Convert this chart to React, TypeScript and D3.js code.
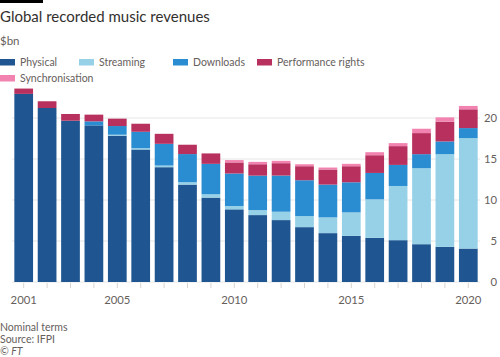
import React from "react";
import * as d3 from "d3";

const years = [2001,2002,2003,2004,2005,2006,2007,2008,2009,2010,2011,2012,2013,2014,2015,2016,2017,2018,2019,2020];
const physical = [22.94,21.22,19.67,19.1,17.84,16.16,14.0,11.88,10.29,8.86,8.16,7.55,6.69,5.96,5.63,5.39,5.1,4.61,4.29,4.08];
const streaming = [0,0,0,0,0.12,0.16,0.2,0.29,0.41,0.41,0.61,1.02,1.35,1.92,2.86,4.69,6.61,9.27,11.3,13.47];
const downloads = [0,0,0,0.49,1.06,2.0,2.65,3.43,3.71,3.96,4.2,4.41,4.37,4.0,3.67,3.22,2.57,1.71,1.55,1.22];
const performance = [0.65,0.82,0.82,0.82,0.9,0.98,1.22,1.14,1.27,1.35,1.39,1.51,1.71,1.84,1.96,2.16,2.29,2.57,2.41,2.29];
const sync = [0,0,0,0,0,0,0,0,0,0.29,0.29,0.29,0.24,0.24,0.29,0.37,0.37,0.53,0.53,0.41];

const seriesNames = ["Physical","Streaming","Downloads","Performance rights","Synchronisation"];
const seriesColors = ["#1f5590","#96d1e7","#2a8dd2","#b7305e","#f283b0"];
const yTicks = [0,5,10,15,20];
const xTickLabels = [2001,2005,2010,2015,2020];

const W = 500, H = 357;
const font = "Lato, 'Open Sans', sans-serif";

export default function App() {
  const rows = years.map((y, i) => ({
    year: String(y),
    Physical: physical[i],
    Streaming: streaming[i],
    Downloads: downloads[i],
    "Performance rights": performance[i],
    Synchronisation: sync[i],
  }));
  const stacked = d3.stack<any>().keys(seriesNames)(rows);
  const x = d3.scaleBand<string>().domain(years.map(String)).range([12, 480]).paddingInner(0.2).paddingOuter(0.1);
  const y = d3.scaleLinear().domain([0, 20]).range([282, 118]);

  const legend1 = [
    { i: 0, x: 0, y: 62 },
    { i: 1, x: 79, y: 62 },
    { i: 2, x: 173, y: 62 },
    { i: 3, x: 257, y: 62 },
    { i: 4, x: 0, y: 78 },
  ];

  return (
    <div style={{ position: "fixed", left: 0, top: 0 }}>
      <svg width={W} height={H} style={{ display: "block", background: "#fff" }} fontFamily={font}>
        <rect x={0} y={0} width={43} height={3} fill="#000" />
        <text x={0} y={21.5} fontSize={15} fill="#33302e">Global recorded music revenues</text>
        <text x={0} y={45} fontSize={11.5} fill="#66605c">$bn</text>
        {legend1.map((l) => (
          <g key={l.i}>
            <rect x={l.x} y={l.y - 3} width={15} height={6.5} fill={seriesColors[l.i]} />
            <text x={l.x + 20} y={l.y + 3.8} fontSize={10.5} fill="#66605c">{seriesNames[l.i]}</text>
          </g>
        ))}
        {yTicks.map((t) => (
          <g key={t}>
            <line x1={12} x2={480} y1={y(t)} y2={y(t)} stroke="#e6e6e6" strokeWidth={1} />
            <text x={497} y={y(t) + 4} textAnchor="end" fontSize={11.3} fill="#66605c">{t}</text>
          </g>
        ))}
        {stacked.map((s, si) => (
          <g key={si} fill={seriesColors[si]}>
            {s.map((d: any, i: number) => (
              d[1] - d[0] > 0 ? (
                <rect key={i} x={x(String(years[i]))} width={x.bandwidth()} y={y(d[1])} height={y(d[0]) - y(d[1])} />
              ) : null
            ))}
          </g>
        ))}
        {years.map((yr) => (
          <line key={yr} x1={x(String(yr))! + x.bandwidth() / 2} x2={x(String(yr))! + x.bandwidth() / 2} y1={283} y2={288} stroke="#d9d4cf" />
        ))}
        {xTickLabels.map((yr) => (
          <text key={yr} x={x(String(yr))! + x.bandwidth() / 2} y={304} textAnchor="middle" fontSize={11.3} fill="#66605c">{yr}</text>
        ))}
        <text x={0} y={331} fontSize={10.5} fill="#66605c">Nominal terms</text>
        <text x={0} y={343} fontSize={10.5} fill="#66605c">Source: IFPI</text>
        <text x={0} y={355} fontSize={10.5} fill="#66605c" fontStyle="italic">© FT</text>
      </svg>
    </div>
  );
}
